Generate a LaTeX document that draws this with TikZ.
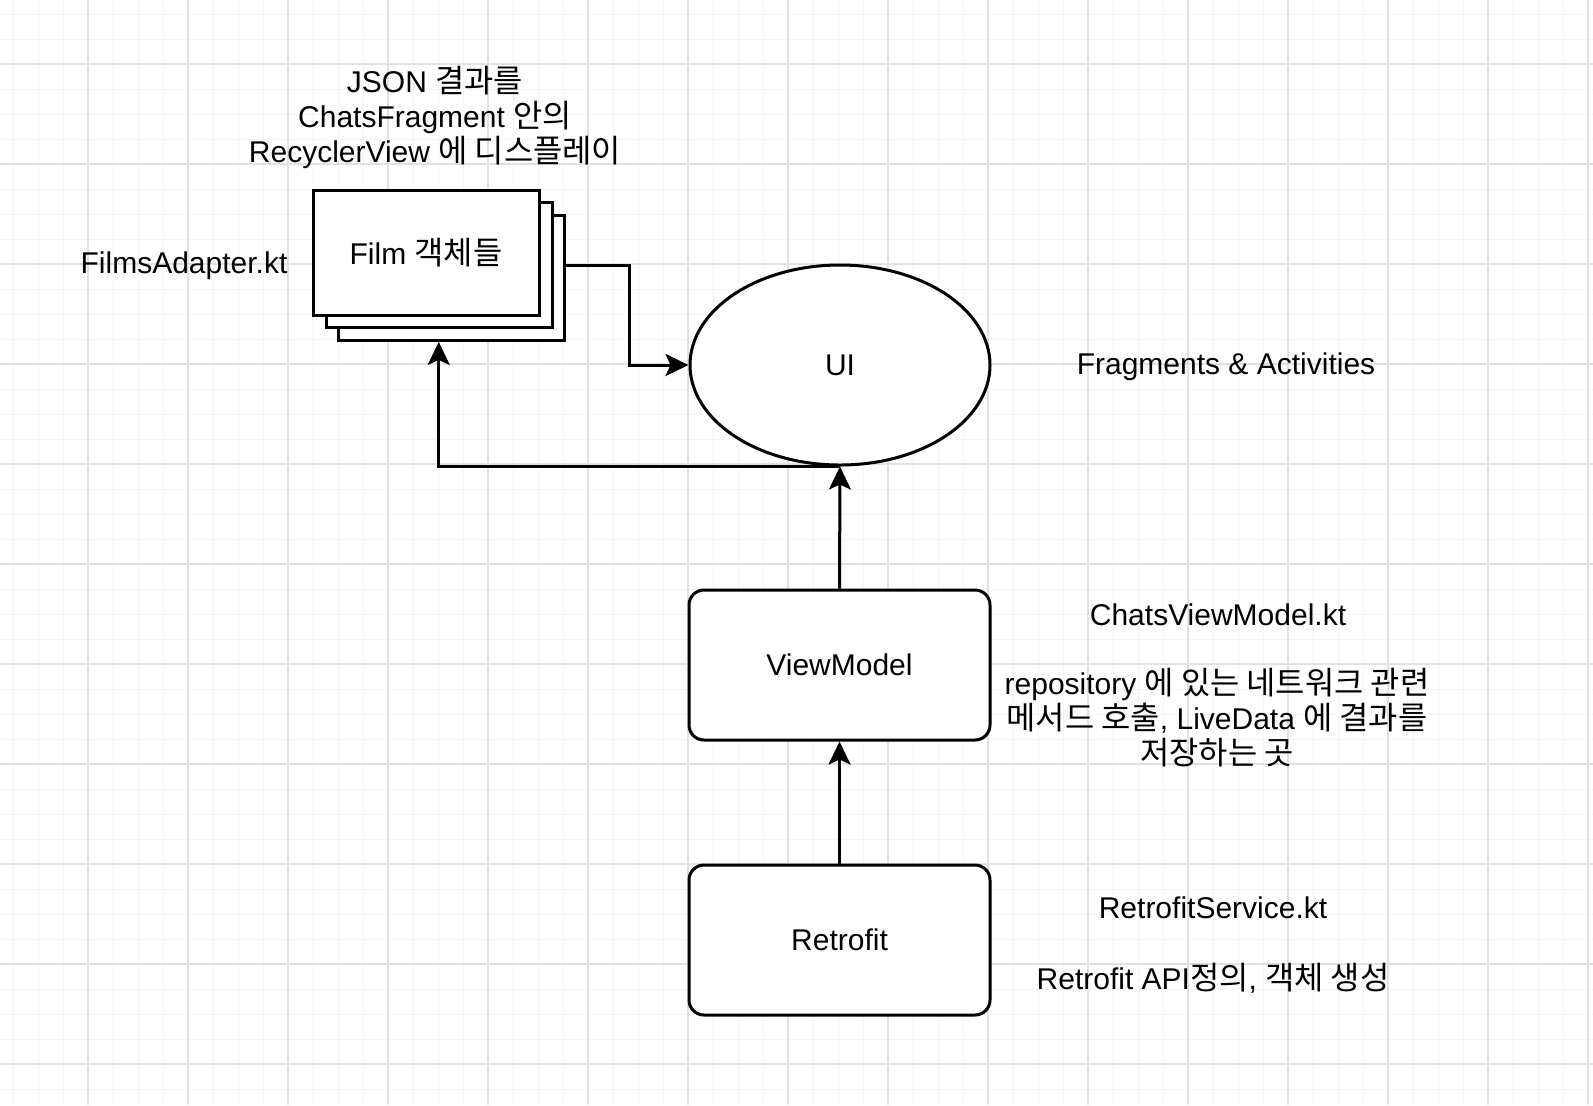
\documentclass[tikz,border=0pt]{standalone}
\usepackage{fontspec}
\setmainfont{Liberation Sans}
\newfontfamily\kr[Scale=1.06]{Noto Sans CJK KR}
\usetikzlibrary{arrows.meta,shapes.geometric,fit,positioning}
\definecolor{gridminor}{RGB}{245,245,245}
\definecolor{gridmajor}{RGB}{225,225,225}
\tikzset{
  box/.style={draw, line width=1.5pt, fill=white, minimum width=150.5pt, minimum height=75pt, rounded corners=7.5pt, inner sep=0pt},
  sheet/.style={draw, line width=1.5pt, fill=white, minimum width=113pt, minimum height=62.5pt, inner sep=0pt},
  note/.style={align=center, inner sep=0pt},
  link/.style={line width=1.5pt, -{Stealth[length=11.5pt,width=11pt,inset=2.5pt]}},
}

\begin{document}
\begin{tikzpicture}[x=0.5pt, y=-0.5pt, font=\fontsize{15}{17.5}\selectfont]
			%%%%% GRID %%%%%
			\fill[white] (0,0) rectangle (1593,1105);
			\useasboundingbox (0,0) rectangle (1593,1105);
			\foreach \x in {13,38,...,1593} \draw[gridminor, line width=0.5pt] (\x,0) -- (\x,1105);
			\foreach \y in {14,39,...,1105} \draw[gridminor, line width=0.5pt] (0,\y) -- (1593,\y);
			\foreach \x in {88,188,...,1593} \draw[gridmajor, line width=0.6pt] (\x,0) -- (\x,1105);
			\foreach \y in {64,164,...,1105} \draw[gridmajor, line width=0.6pt] (0,\y) -- (1593,\y);
			
			%%%%% START %%%%%
			
			\node[sheet] (filmc) at (451.5,277.5) {};
			\node[sheet] (filmb) at (439,265) {};
			\node[sheet] (film) at (426,252.5) {Film {\kr 객체들}};
			\node[inner sep=0pt, fit=(film)(filmc)] (stack) {};
			
			\node[ellipse, draw, line width=1.5pt, fill=white, minimum width=150pt, minimum height=100pt, inner sep=0pt] (ui) at (840,365) {UI};
			\node[box] (vm) at (839.5,665) {ViewModel};
			\node[box] (rf) at (839.5,940) {Retrofit};
			
			\draw[link] (stack.east) -- ++(63,0) |- (ui.west);
			\draw[link] (ui.south) -| (stack.south);
			\draw[link] (vm.north) -- (ui.south);
			\draw[link] (rf.north) -- (vm.south);
			
			\node[note] (json) at (435,117) {JSON {\kr 결과를}\\ChatsFragment {\kr 안의}\\RecyclerView {\kr 에 디스플레이}};
			\node[note] (adapter) at (184,266) {FilmsAdapter.kt};
			\node[note] (frag) at (1226,367) {Fragments \& Activities};
			\node[note] (vmfile) at (1218,615) {ChatsViewModel.kt};
			\node[note] (vmnote) at (1217,718) {repository {\kr 에 있는 네트워크 관련}\\{\kr 메서드 호출}, LiveData {\kr 에 결과를}\\{\kr 저장하는 곳}};
			\node[note] (rffile) at (1213,908) {RetrofitService.kt};
			\node[note] (rfnote) at (1213,978) {Retrofit API{\kr 정의}, {\kr 객체 생성}};
			
			%%%%% END %%%%%
\end{tikzpicture}
\end{document}
